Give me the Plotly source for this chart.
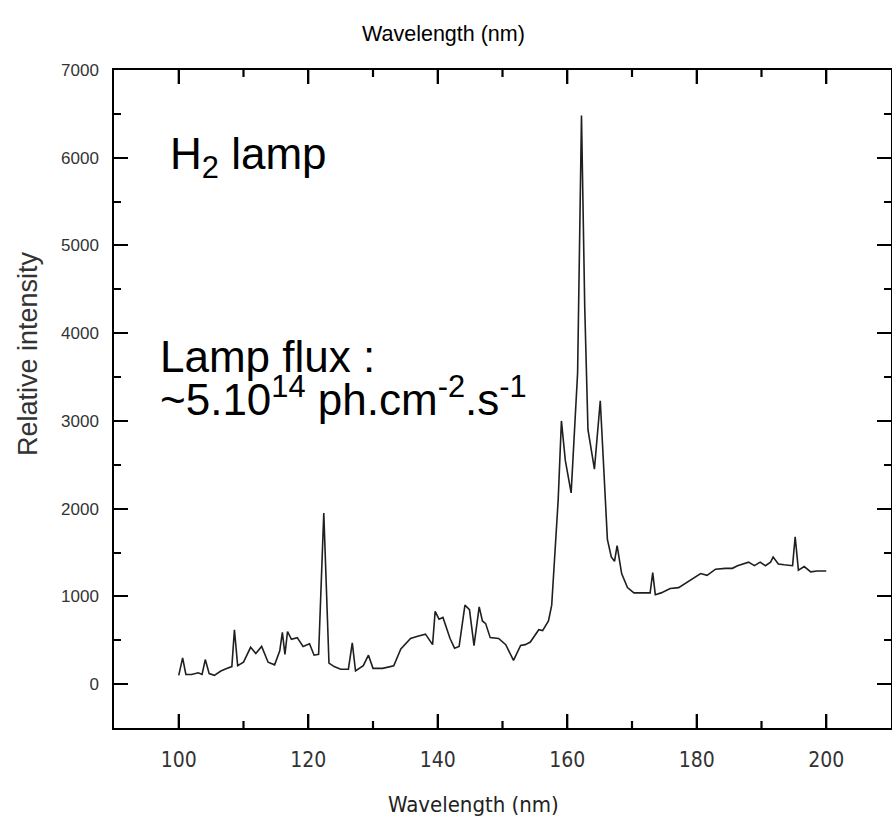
import plotly.graph_objects as go

wavelength = [100.0, 100.6, 101.1, 102.0, 103.0, 103.6, 104.1, 104.7, 105.5, 106.5,
              107.5, 108.2, 108.6, 109.1, 110.0, 111.1, 111.9, 112.8, 113.8, 114.8,
              115.6, 116.0, 116.4, 116.8, 117.4, 118.3, 119.2, 120.2, 120.9, 121.6,
              122.4, 123.2, 124.0, 125.0, 126.2, 126.8, 127.3, 128.5, 129.3, 130.0,
              131.5, 133.2, 134.3, 135.8, 136.9, 138.1, 139.2, 139.6, 140.2, 140.8,
              141.9, 142.6, 143.3, 144.2, 144.9, 145.6, 146.4, 146.9, 147.4, 148.1,
              149.4, 150.5, 151.7, 152.8, 153.5, 154.3, 155.6, 156.2, 157.1, 157.6,
              158.1, 158.6, 159.1, 159.7, 160.6, 161.6, 162.2, 162.7, 163.2, 164.2,
              165.1, 165.6, 166.2, 166.8, 167.3, 167.7, 168.4, 169.3, 170.3, 171.5,
              172.8, 173.2, 173.6, 174.5, 175.9, 177.2, 178.5, 179.5, 180.6, 181.6,
              182.9, 184.4, 185.5, 186.3, 187.2, 188.0, 188.9, 189.8, 190.6, 191.4,
              191.8, 192.6, 193.5, 194.8, 195.2, 195.7, 196.6, 197.6, 198.6, 200.0]
intensity = [100, 300, 110, 110, 130, 110, 280, 120, 100, 150,
             180, 200, 620, 210, 250, 420, 350, 430, 250, 220,
             380, 590, 340, 600, 510, 530, 430, 460, 330, 340,
             1950, 240, 200, 170, 170, 470, 150, 210, 330, 180,
             180, 210, 400, 520, 545, 570, 450, 830, 740, 760,
             520, 410, 430, 900, 850, 440, 880, 720, 690, 530,
             520, 450, 270, 440, 450, 480, 620, 610, 720, 900,
             1500, 2100, 3000, 2550, 2180, 3550, 6480, 4300, 2900, 2450,
             3230, 2500, 1650, 1450, 1400, 1580, 1260, 1100, 1040, 1040,
             1040, 1270, 1020, 1040, 1090, 1100, 1160, 1200, 1260, 1240,
             1310, 1320, 1320, 1350, 1370, 1390, 1350, 1390, 1350, 1390,
             1450, 1370, 1360, 1350, 1680, 1300, 1340, 1280, 1290, 1290]

x_major_ticks = [100, 120, 140, 160, 180, 200]
x_minor_ticks = [110, 130, 150, 170, 190]
x_range = [90, 210]
y_range = [-500, 7000]

W, H = 892, 823
ML, MR, MT, MB = 114, 1, 70, 95
pw, ph = W - ML - MR, H - MT - MB
MAJOR_LEN, MINOR_LEN = 14, 7

def px(xp):
    return (xp - ML) / pw

def py(yp):
    return (H - MB - yp) / ph

fig = go.Figure()
fig.add_trace(go.Scatter(x=wavelength, y=intensity, mode="lines",
                         line=dict(color="#1f1f1f", width=1.6), showlegend=False,
                         hoverinfo="skip"))

xfont = dict(family="Liberation Sans Narrow, DejaVu Sans Condensed, sans-serif", size=21, color="#333")
yfont = dict(family="Liberation Sans, Arial, sans-serif", size=17, color="#333")

base = dict(showline=True, linecolor="black", linewidth=1.5, mirror="allticks",
            ticks="inside", ticklen=MAJOR_LEN, tickwidth=2.2, tickcolor="black",
            showgrid=False, zeroline=False, automargin=False)

yminor = dict(dtick=500, tick0=0, ticks="inside", ticklen=MINOR_LEN, tickwidth=2.2,
              tickcolor="black", showgrid=False)

fig.update_layout(
    xaxis=dict(range=x_range, tickvals=x_major_ticks, ticktext=[str(v) for v in x_major_ticks],
               tickfont=xfont, ticklabelstandoff=12, **base),
    yaxis=dict(range=y_range, tickmode="linear", tick0=0, dtick=1000, tickfont=yfont,
               minor=yminor, ticklabelstandoff=10, **base),
)

# x-axis tick marks (bottom and mirrored top), placed from the tick lists
shapes = []
for ticks_list, ln in ((x_major_ticks, MAJOR_LEN), (x_minor_ticks, MINOR_LEN)):
    for t in ticks_list:
        for y0, y1 in ((0, ln / ph), (1, 1 - ln / ph)):
            shapes.append(dict(type="line", xref="x", yref="paper", x0=t, x1=t, y0=y0, y1=y1,
                               line=dict(color="black", width=2.2), layer="above"))

ann_font = dict(family="Liberation Sans, Arial, sans-serif", size=44, color="black")
annotations = [
    dict(text="Wavelength (nm)", x=px(443), y=py(34), xref="paper", yref="paper",
         showarrow=False, xanchor="center", yanchor="middle",
         font=dict(family="Liberation Sans, Arial, sans-serif", size=21.5, color="black")),
    dict(text="Wavelength (nm)", x=px(473), y=py(804), xref="paper", yref="paper",
         showarrow=False, xanchor="center", yanchor="middle",
         font=dict(family="Liberation Sans Narrow, DejaVu Sans Condensed, sans-serif", size=22, color="#222")),
    dict(text="Relative intensity", x=px(28), y=py(354), xref="paper", yref="paper",
         showarrow=False, xanchor="center", yanchor="middle", textangle=-90,
         font=dict(family="Liberation Sans, Arial, sans-serif", size=27, color="#333")),
    dict(text="H<sub>2</sub> lamp", x=px(168), y=py(157), xref="paper", yref="paper",
         showarrow=False, xanchor="left", yanchor="middle", font=ann_font),
    dict(text="Lamp flux :", x=px(158), y=py(356), xref="paper", yref="paper",
         showarrow=False, xanchor="left", yanchor="middle", font=ann_font),
    dict(text="~5.10<sup>14</sup> ph.cm<sup>-2</sup>.s<sup>-1</sup>", x=px(158), y=py(396),
         xref="paper", yref="paper", showarrow=False, xanchor="left", yanchor="middle", font=ann_font),
]

fig.update_layout(width=W, height=H, margin=dict(l=ML, r=MR, t=MT, b=MB),
                  paper_bgcolor="white", plot_bgcolor="white",
                  annotations=annotations, shapes=shapes)

fig.write_html("out.html", config={"displayModeBar": False},
               post_script="document.body.style.margin='0';document.body.style.overflow='hidden';")
